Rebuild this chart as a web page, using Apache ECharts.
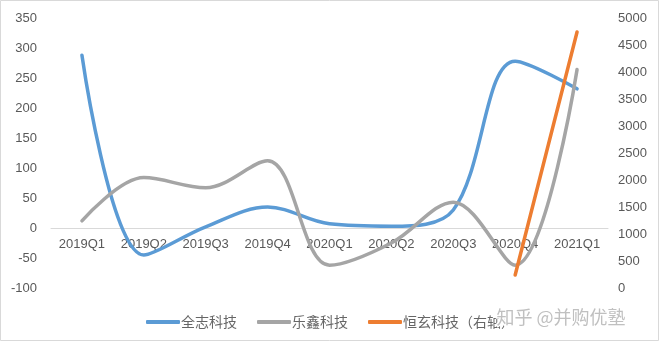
<!DOCTYPE html>
<html>
<head>
<meta charset="utf-8">
<script src="https://cdn.jsdelivr.net/npm/echarts@6/dist/echarts.min.js"></script>
<style>
html,body{margin:0;padding:0;background:#fff;}
#c{width:660px;height:342px;}
</style>
</head>
<body>
<div id="c"></div>
<script>
var categories = ['2019Q1','2019Q2','2019Q3','2019Q4','2020Q1','2020Q2','2020Q3','2020Q4','2021Q1'];
var quanzhi = [288, -45, 2, 35, 7, 3, 30, 278, 232];
var lexin = [12, 84, 67, 112, -62, -25, 43, -62, 264];
var hengxuan = [null, null, null, null, null, null, null, 240, 4740];
var leftTicks = {min: -100, max: 350, interval: 50};
var rightTicks = {min: 0, max: 5000, interval: 500};

var chart = echarts.init(document.getElementById('c'), null, {renderer: 'canvas'});
var labelFont = {color: '#595959', fontSize: 13, fontFamily: 'Liberation Sans'};
chart.setOption({
  animation: false,
  backgroundColor: '#fff',
  grid: {left: 51, right: 52, top: 18, bottom: 54, containLabel: false},
  legend: {
    left: 141, top: 310,
    itemWidth: 34, itemHeight: 4, itemGap: 20, icon: 'roundRect',
    textStyle: {color: '#666666', fontSize: 14, fontFamily: 'Noto Sans CJK SC', padding: [0,0,0,-4]},
    data: ['全志科技','乐鑫科技','恒玄科技（右轴）']
  },
  xAxis: {
    type: 'category', data: categories, boundaryGap: true,
    position: 'bottom', offset: -60,
    axisLine: {show: true, onZero: false, lineStyle: {color: '#d9d9d9', width: 1}},
    axisTick: {show: false},
    axisLabel: Object.assign({margin: 10, interval: 0}, labelFont),
    splitLine: {show: false}
  },
  yAxis: [
    {type: 'value', min: leftTicks.min, max: leftTicks.max, interval: leftTicks.interval,
     axisLine: {show: false}, axisTick: {show: false}, splitLine: {show: false},
     axisLabel: Object.assign({margin: 14}, labelFont)},
    {type: 'value', min: rightTicks.min, max: rightTicks.max, interval: rightTicks.interval,
     position: 'right',
     axisLine: {show: false}, axisTick: {show: false}, splitLine: {show: false},
     axisLabel: Object.assign({margin: 10, formatter: function (v) { return String(v); }}, labelFont)}
  ],
  series: [
    {name: '全志科技', type: 'line', data: quanzhi, yAxisIndex: 0, smooth: 0.35, symbol: 'none',
     lineStyle: {color: '#5B9BD5', width: 3.5, cap: 'round'}, itemStyle: {color: '#5B9BD5'}},
    {name: '乐鑫科技', type: 'line', data: lexin, yAxisIndex: 0, smooth: 0.35, symbol: 'none',
     lineStyle: {color: '#A5A5A5', width: 3.5, cap: 'round'}, itemStyle: {color: '#A5A5A5'}},
    {name: '恒玄科技（右轴）', type: 'line', data: hengxuan, yAxisIndex: 1, symbol: 'none',
     lineStyle: {color: '#ED7D31', width: 3.5, cap: 'round'}, itemStyle: {color: '#ED7D31'}}
  ],
  graphic: [
    {type: 'rect', shape: {x: 0.5, y: 0.5, width: 658, height: 340}, style: {fill: 'none', stroke: '#d9d9d9', lineWidth: 1}, z: 100},
    {type: 'text', left: 495, top: 307, z: 100,
     style: {text: '知乎 @并购优塾', fill: '#c0c0c0', fontSize: 18, fontFamily: 'Noto Sans CJK SC', stroke: '#fff', lineWidth: 3}}
  ]
});
</script>
</body>
</html>
